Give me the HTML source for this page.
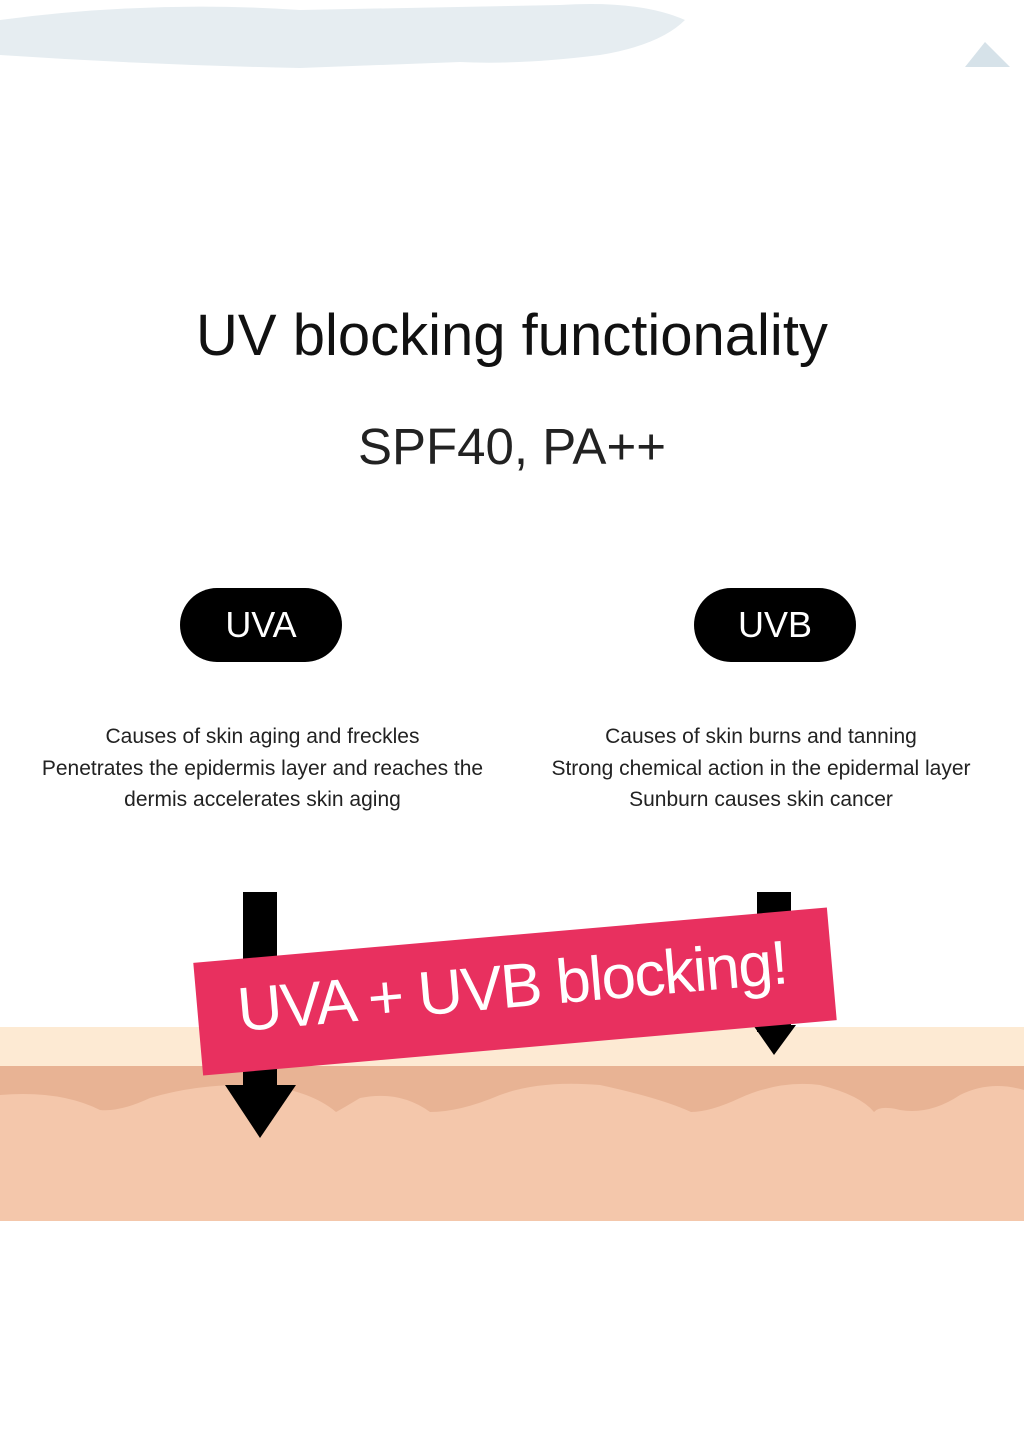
<!DOCTYPE html>
<html><head><meta charset="utf-8"><style>
body{margin:0;width:1024px;height:1451px;background:#fff;position:relative;overflow:hidden;font-family:"Liberation Sans","DejaVu Sans",sans-serif;}
.t{position:absolute;left:0;width:1024px;text-align:center;color:#111;}
.pill{position:absolute;background:#000;color:#fff;border-radius:38px;font-size:36px;text-align:center;line-height:74px;width:162px;height:74px;}
.desc{position:absolute;text-align:center;font-size:21px;line-height:31.5px;color:#222;}
</style></head><body>
<svg style="position:absolute;left:0;top:0" width="1024" height="80">
<path d="M0 20 Q150 0 300 10 L560 5 Q640 0 685 20 Q660 45 600 55 Q520 65 460 62 L300 68 Q150 65 0 55Z" fill="#e6edf1"/>
<path d="M965 67 L985 42 L1010 67Z" fill="#d6e2e9"/>
</svg>
<div class="t" style="top:302px;font-size:58px;">UV blocking functionality</div>
<div class="t" style="top:417px;font-size:51px;color:#222;">SPF40, PA++</div>
<div class="pill" style="left:180px;top:588px;">UVA</div>
<div class="pill" style="left:694px;top:588px;">UVB</div>
<div class="desc" style="left:10px;width:505px;top:721px;">Causes of skin aging and freckles<br>Penetrates the epidermis layer and reaches the<br>dermis accelerates skin aging</div>
<div class="desc" style="left:520px;width:482px;top:721px;">Causes of skin burns and tanning<br>Strong chemical action in the epidermal layer<br>Sunburn causes skin cancer</div>
<svg style="position:absolute;left:0;top:880px" width="1024" height="360">
<rect x="0" y="147" width="1024" height="40" fill="#fdead3"/>
<rect x="0" y="186" width="1024" height="155" fill="#f4c7ab"/>
<path d="M0 186 H1024 V210 Q990 200 960 215 Q930 235 900 230 Q880 225 874 232 Q860 215 820 205 Q780 200 740 218 Q710 232 691 232 Q660 218 600 205 Q540 200 500 215 Q460 232 430 232 Q400 210 360 218 Q340 230 336 232 Q310 210 260 205 Q200 203 150 218 Q120 232 100 230 Q60 210 0 215Z" fill="#e8b394"/>
<rect x="243" y="12" width="34" height="200" fill="#000"/>
<path d="M225 205 H296 L260 258Z" fill="#000"/>
<rect x="757" y="12" width="34" height="140" fill="#000"/>
<path d="M753 145 H796 L774 175Z" fill="#000"/>
</svg>
<div style="position:absolute;left:197px;top:935px;width:636px;height:113px;background:#e8305f;transform:rotate(-5deg);transform-origin:center;">
<div style="position:absolute;left:40px;top:16px;color:#fff;font-size:62px;white-space:nowrap;letter-spacing:-1.5px;">UVA + UVB blocking!</div>
</div>
</body></html>
